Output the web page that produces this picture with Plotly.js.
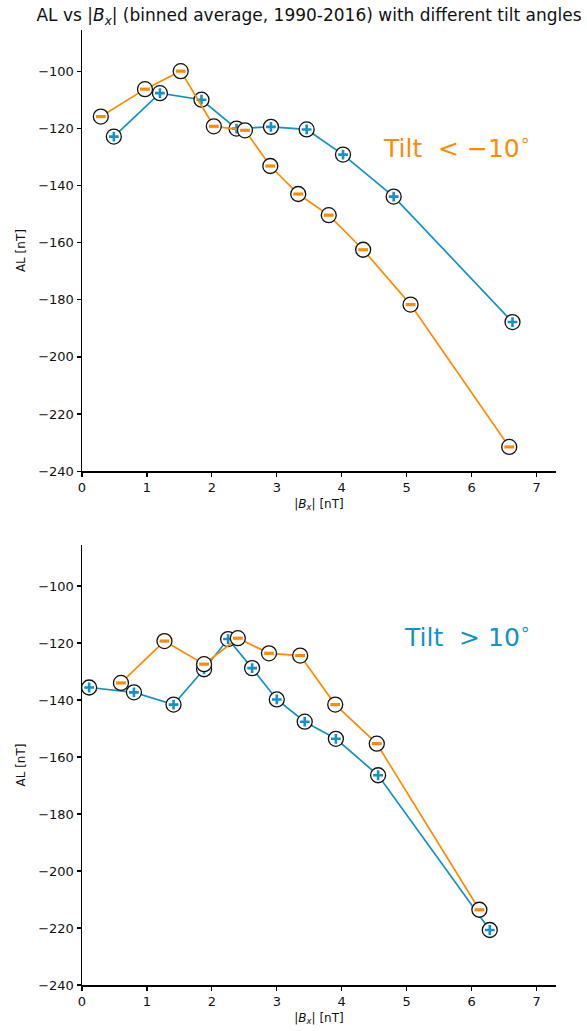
<!DOCTYPE html>
<html>
<head>
<meta charset="utf-8">
<script src="https://cdn.plot.ly/plotly-3.0.1.min.js"></script>
<style>html,body{margin:0;padding:0;background:#fff}#chart{width:587px;height:1031px}</style>
</head>
<body>
<div id="chart"></div>
<script>
// Top panel: tilt < -10 deg
const topNegX = [0.29, 0.97, 1.52, 2.03, 2.51, 2.90, 3.33, 3.80, 4.33, 5.06, 6.58];
const topNegY = [-115.9, -106.3, -100.0, -119.3, -120.7, -133.2, -143.0, -150.4, -162.5, -181.7, -231.5];
const topPosX = [0.49, 1.20, 1.84, 2.38, 2.91, 3.46, 4.02, 4.80, 6.63];
const topPosY = [-122.9, -107.7, -110.0, -120.1, -119.5, -120.4, -129.2, -143.9, -187.8];
// Bottom panel: tilt > 10 deg
const botNegX = [0.60, 1.27, 1.88, 2.40, 2.88, 3.36, 3.90, 4.54, 6.12];
const botNegY = [-134.0, -119.3, -127.4, -118.3, -123.6, -124.4, -141.6, -155.3, -213.6];
const botPosX = [0.11, 0.80, 1.41, 1.88, 2.25, 2.62, 3.00, 3.43, 3.91, 4.56, 6.28];
const botPosY = [-135.6, -137.3, -141.6, -129.2, -118.6, -128.8, -139.8, -147.6, -153.6, -166.4, -220.7];

const titleText = 'AL vs |<i>B</i><sub><i>x</i></sub>| (binned average, 1990-2016) with different tilt angles';
const xTitle = '|<i>B</i><sub><i>x</i></sub>| [nT]';
const yTitle = 'AL [nT]';
const topLabel = 'Tilt  &lt; −10<sup>∘</sup>';
const botLabel = 'Tilt  &gt; 10<sup>∘</sup>';

const ORANGE = '#ff8c00';
const BLUE = '#1192c9';
const FONT = 'DejaVu Sans';

function series(x, y, color, sym, xa, ya) {
  const base = {
    x: x, y: y, xaxis: xa, yaxis: ya, type: 'scatter', mode: 'lines+markers',
    line: {color: color, width: 1.7},
    marker: {symbol: 'circle', size: 15, color: 'white', line: {color: '#111', width: 1.3}},
    hoverinfo: 'skip', showlegend: false, cliponaxis: false
  };
  const over = {
    x: x, y: y, xaxis: xa, yaxis: ya, type: 'scatter', mode: 'markers',
    marker: sym === 'plus'
      ? {symbol: 'cross-thin', size: 7, color: color, line: {color: color, width: 2.6}}
      : {symbol: 'line-ew', size: 7, color: color, line: {color: color, width: 3.2}},
    hoverinfo: 'skip', showlegend: false, cliponaxis: false
  };
  return [base, over];
}

const data = [].concat(
  series(topPosX, topPosY, BLUE, 'plus', 'x', 'y'),
  series(topNegX, topNegY, ORANGE, 'minus', 'x', 'y'),
  series(botPosX, botPosY, BLUE, 'plus', 'x2', 'y2'),
  series(botNegX, botNegY, ORANGE, 'minus', 'x2', 'y2')
);

const xAxisBase = {
  range: [0, 7.3], tickvals: [0,1,2,3,4,5,6,7], ticks: 'outside', ticklen: 4, tickwidth: 1.2,
  tickcolor: '#000', showline: true, linecolor: '#000', linewidth: 1.5, showgrid: false,
  zeroline: false, tickfont: {family: FONT, size: 13, color: '#111'},
  title: {text: xTitle, font: {family: FONT, size: 12, color: '#111'}, standoff: 5}
};
const yAxisBase = {
  range: [-240, -85.6], tickvals: [-240,-220,-200,-180,-160,-140,-120,-100], ticks: 'outside', ticklen: 4, tickwidth: 1.2,
  tickcolor: '#000', showline: true, linecolor: '#000', linewidth: 1.5, showgrid: false,
  zeroline: false, tickfont: {family: FONT, size: 13, color: '#111'},
  title: {text: yTitle, font: {family: FONT, size: 12, color: '#111'}, standoff: 10}
};

const layout = {
  width: 587, height: 1031,
  margin: {l: 82, r: 31, t: 30, b: 46},
  paper_bgcolor: '#fff', plot_bgcolor: '#fff',
  font: {family: FONT, color: '#111'},
  title: {text: titleText, font: {family: FONT, size: 17, color: '#111'},
          x: 309/587, xanchor: 'center', xref: 'container', y: 1 - 15/1031, yanchor: 'middle', yref: 'container'},
  xaxis: Object.assign({}, xAxisBase, {anchor: 'y', domain: [0, 1]}),
  yaxis: Object.assign({}, yAxisBase, {anchor: 'x', domain: [0.538, 1]}),
  xaxis2: Object.assign({}, xAxisBase, {anchor: 'y2', domain: [0, 1]}),
  yaxis2: Object.assign({}, yAxisBase, {anchor: 'x2', domain: [0, 0.4607]}),
  annotations: [
    {xref: 'x', yref: 'y', x: 4.60, y: -126.3, xanchor: 'left', yanchor: 'middle', showarrow: false,
     text: topLabel, font: {family: FONT, size: 25, color: ORANGE}},
    {xref: 'x2', yref: 'y2', x: 4.93, y: -117.2, xanchor: 'left', yanchor: 'middle', showarrow: false,
     text: botLabel, font: {family: FONT, size: 25, color: BLUE}}
  ]
};

Plotly.newPlot('chart', data, layout, {displayModeBar: false, staticPlot: true});
</script>
</body>
</html>
